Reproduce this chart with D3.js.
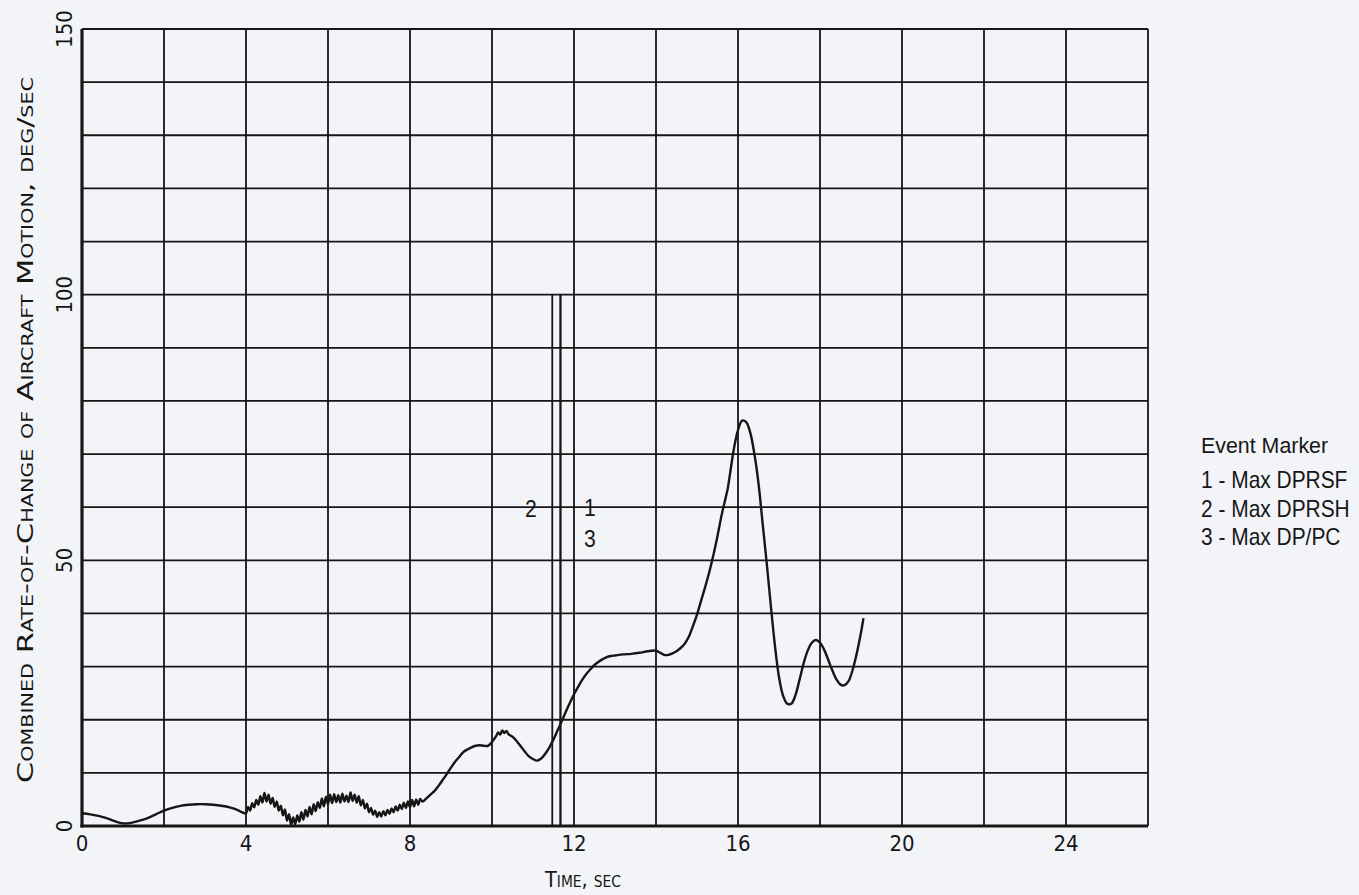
<!DOCTYPE html>
<html>
<head>
<meta charset="utf-8">
<script src="https://cdn.jsdelivr.net/npm/d3@7"></script>
<style>
  html, body { margin: 0; padding: 0; background: #f3f4f8; }
  svg { display: block; }
</style>
</head>
<body>
<svg id="chart" width="1359" height="895"></svg>
<script>
// ---------- data ----------
const timeSec = [
  0.0, 0.2, 0.4, 0.6, 0.8, 1.0, 1.2, 1.4, 1.6, 1.8, 2.0, 2.2, 2.4, 2.6, 2.8, 3.0, 3.2, 3.4, 3.6, 3.8, 3.9,
  4.00, 4.05, 4.10, 4.15, 4.20, 4.25, 4.30, 4.35, 4.40, 4.45, 4.50, 4.55, 4.60, 4.65, 4.70, 4.75, 4.80, 4.85, 4.90, 4.95,
  5.00, 5.05, 5.10, 5.15, 5.20, 5.25, 5.30, 5.35, 5.40, 5.45, 5.50, 5.55, 5.60, 5.65, 5.70, 5.75, 5.80, 5.85, 5.90, 5.95,
  6.00, 6.05, 6.10, 6.15, 6.20, 6.25, 6.30, 6.35, 6.40, 6.45, 6.50, 6.55, 6.60, 6.65, 6.70, 6.75, 6.80, 6.85, 6.90, 6.95,
  7.00, 7.05, 7.10, 7.15, 7.20, 7.25, 7.30, 7.35, 7.40, 7.45, 7.50, 7.55, 7.60, 7.65, 7.70, 7.75, 7.80, 7.85, 7.90, 7.95,
  8.00, 8.05, 8.10, 8.15, 8.20, 8.25, 8.30,
  8.4, 8.5, 8.6, 8.7, 8.8, 8.9, 9.0, 9.1, 9.2, 9.3, 9.4, 9.5, 9.6, 9.7, 9.8, 9.9,
  10.0, 10.1, 10.15, 10.2, 10.25, 10.3, 10.35, 10.4, 10.5, 10.6, 10.7, 10.8, 10.9,
  11.0, 11.1, 11.2, 11.3, 11.4, 11.5, 11.6, 11.7, 11.8, 11.9,
  12.0, 12.1, 12.2, 12.3, 12.4, 12.5, 12.6, 12.7, 12.8, 12.9,
  13.0, 13.2, 13.4, 13.6, 13.8, 14.0, 14.1, 14.2, 14.3, 14.4, 14.5, 14.6, 14.7, 14.8, 14.9,
  15.0, 15.1, 15.2, 15.3, 15.4, 15.5, 15.6, 15.7, 15.75, 15.8, 15.9,
  16.0, 16.1, 16.2, 16.3, 16.4, 16.5, 16.6, 16.7, 16.8, 16.9,
  17.0, 17.1, 17.2, 17.3, 17.4, 17.5, 17.6, 17.7, 17.8, 17.9,
  18.0, 18.1, 18.2, 18.3, 18.4, 18.5, 18.6, 18.7, 18.8, 18.9, 19.0, 19.06
];
const rateDegSec = [
  2.4, 2.2, 1.9, 1.5, 0.9, 0.5, 0.6, 1.0, 1.5, 2.2, 2.9, 3.4, 3.8, 4.0, 4.1, 4.1, 4.0, 3.8, 3.5, 3.0, 2.6,
  2.4, 3.6, 2.9, 4.3, 3.5, 4.9, 4.0, 5.6, 4.4, 6.2, 4.6, 5.9, 4.2, 5.3, 3.6, 4.6, 2.9, 3.8, 2.0, 3.1,
  1.0, 2.2, 0.2, 1.6, 0.3, 2.0, 0.8, 2.6, 1.2, 3.0, 1.8, 3.6, 2.2, 4.1, 2.8, 4.5, 3.4, 5.2, 3.7, 5.5,
  4.1, 5.9, 4.3, 6.0, 4.5, 5.8, 4.4, 6.1, 4.6, 5.7, 4.5, 6.3, 4.7, 5.9, 4.4, 5.6, 3.9, 4.9, 3.3, 4.2,
  2.6, 3.4, 2.1, 2.9, 1.7, 2.6, 1.8, 2.8, 2.0, 3.0, 2.3, 3.3, 2.6, 3.7, 2.9, 4.0, 3.2, 4.4, 3.4, 4.6,
  3.5, 4.9, 3.7, 5.0, 4.0, 5.1, 4.6,
  5.2, 5.9, 6.6, 7.6, 8.7, 9.8, 11.0, 12.1, 13.0, 13.9, 14.4, 14.8, 15.1, 15.2, 15.1, 15.1,
  15.8, 16.9, 17.6, 17.2, 18.0, 17.5, 17.9, 17.3, 16.8, 16.0, 15.0, 14.0, 13.1,
  12.6, 12.3, 12.7, 13.6, 14.8, 16.3, 18.0, 19.7, 21.5, 23.2,
  24.8, 26.2, 27.5, 28.6, 29.5, 30.3, 30.9, 31.4, 31.8, 32.0,
  32.1, 32.3, 32.4, 32.6, 32.9, 33.0, 32.6, 32.2, 32.2, 32.5, 32.9, 33.5, 34.3, 35.6, 37.6,
  39.8, 42.4, 45.0, 47.8, 51.0, 54.6, 58.5, 61.8, 63.5, 66.0, 71.0,
  74.5, 76.3, 76.0, 74.0, 70.0, 64.5, 57.0, 49.5, 41.5, 34.0,
  28.0, 24.5, 23.0, 23.0, 24.6, 27.5, 30.6, 33.0, 34.5, 35.0,
  34.5, 33.2, 31.3, 29.3, 27.6, 26.6, 26.5, 27.3, 29.5, 32.6, 36.4, 39.1
];

const xTickLabels = [0, 4, 8, 12, 16, 20, 24];
const yTickLabels = [0, 50, 100, 150];
const xGrid = [0, 2, 4, 6, 8, 10, 12, 14, 16, 18, 20, 22, 24, 26];
const yGrid = [0, 10, 20, 30, 40, 50, 60, 70, 80, 90, 100, 110, 120, 130, 140, 150];

const eventIds = ["2", "1", "3"];
const eventTimes = [11.47, 11.67, 11.67];
const eventTop = 100;

const legendTitle = "Event Marker";
const legendItems = ["1 - Max DPRSF", "2 - Max DPRSH", "3 - Max DP/PC"];

const xTitle = "Time, sec";
const yTitle = "Combined Rate-of-Change of Aircraft Motion, deg/sec";

// ---------- drawing ----------
const svg = d3.select("#chart");
const x = d3.scaleLinear().domain([0, 26]).range([82, 1148]);
const y = d3.scaleLinear().domain([0, 150]).range([826, 29]);

const ink = "#161616";
const plotFont = "'DejaVu Sans', sans-serif";
const labelFont = "'Liberation Sans', Arial, sans-serif";

// grid
const g = svg.append("g");
g.selectAll("line.vg").data(xGrid).join("line")
  .attr("x1", d => x(d)).attr("x2", d => x(d))
  .attr("y1", y(0)).attr("y2", y(150))
  .attr("stroke", ink).attr("stroke-width", 1.8);
g.selectAll("line.hg").data(yGrid).join("line")
  .attr("x1", x(0)).attr("x2", x(26))
  .attr("y1", d => y(d)).attr("y2", d => y(d))
  .attr("stroke", ink).attr("stroke-width", 1.8);

// heavy axes (left and bottom)
g.append("line").attr("x1", x(0)).attr("x2", x(0)).attr("y1", y(0) + 1.5).attr("y2", y(150))
  .attr("stroke", ink).attr("stroke-width", 3.2);
g.append("line").attr("x1", x(0) - 1.5).attr("x2", x(26)).attr("y1", y(0)).attr("y2", y(0))
  .attr("stroke", ink).attr("stroke-width", 3.2);

// event marker lines
g.selectAll("line.ev").data(eventTimes).join("line")
  .attr("x1", d => x(d)).attr("x2", d => x(d))
  .attr("y1", y(0)).attr("y2", y(eventTop))
  .attr("stroke", ink).attr("stroke-width", 1.8);

// data curve
const pts = timeSec.map((t, i) => [t, rateDegSec[i]]);
svg.append("path")
  .datum(pts)
  .attr("fill", "none")
  .attr("stroke", ink)
  .attr("stroke-width", 2.4)
  .attr("stroke-linejoin", "round")
  .attr("d", d3.line().curve(d3.curveCatmullRom.alpha(0.5)).x(d => x(d[0])).y(d => y(d[1])));

// x tick labels
svg.selectAll("text.xt").data(xTickLabels).join("text")
  .attr("x", d => x(d)).attr("y", 851)
  .attr("text-anchor", "middle")
  .attr("font-family", plotFont)
  .attr("font-stretch", "condensed")
  .attr("font-size", 22)
  .attr("fill", ink)
  .text(d => d);

// y tick labels (rotated)
svg.selectAll("text.yt").data(yTickLabels).join("text")
  .attr("transform", d => `translate(72,${y(d)}) rotate(-90)`)
  .attr("text-anchor", "middle")
  .attr("font-family", plotFont)
  .attr("font-stretch", "condensed")
  .attr("font-size", 22)
  .attr("fill", ink)
  .text(d => d);

// axis titles
svg.append("text")
  .attr("x", 545).attr("y", 887)
  .attr("font-family", plotFont)
  .attr("font-size", 21)
  .style("font-variant", "small-caps")
  .attr("textLength", 76).attr("lengthAdjust", "spacingAndGlyphs")
  .attr("fill", ink)
  .text(xTitle);

svg.append("text")
  .attr("transform", "translate(33,430) rotate(-90)")
  .attr("text-anchor", "middle")
  .attr("font-family", plotFont)
  .attr("font-size", 22)
  .style("font-variant", "small-caps")
  .attr("textLength", 706).attr("lengthAdjust", "spacingAndGlyphs")
  .attr("fill", ink)
  .text(yTitle);

// event labels
const evLabelPos = { "2": [531, 517], "1": [590, 516], "3": [590, 547] };
svg.selectAll("text.evl").data(eventIds).join("text")
  .attr("transform", d => `translate(${evLabelPos[d][0]},${evLabelPos[d][1]}) scale(0.92,1)`)
  .attr("text-anchor", "middle")
  .attr("font-family", labelFont)
  .attr("font-size", 23)
  .attr("fill", ink)
  .text(d => d);

// legend (horizontally condensed type)
svg.append("text")
  .attr("transform", "translate(1201,453) scale(0.93,1)")
  .attr("font-family", labelFont)
  .attr("font-size", 23)
  .attr("fill", ink)
  .text(legendTitle);
svg.selectAll("text.lg").data(legendItems).join("text")
  .attr("transform", (d, i) => `translate(1201,${488 + i * 28.5}) scale(0.91,1)`)
  .attr("font-family", labelFont)
  .attr("font-size", 23)
  .attr("fill", ink)
  .text(d => d);
</script>
</body>
</html>
